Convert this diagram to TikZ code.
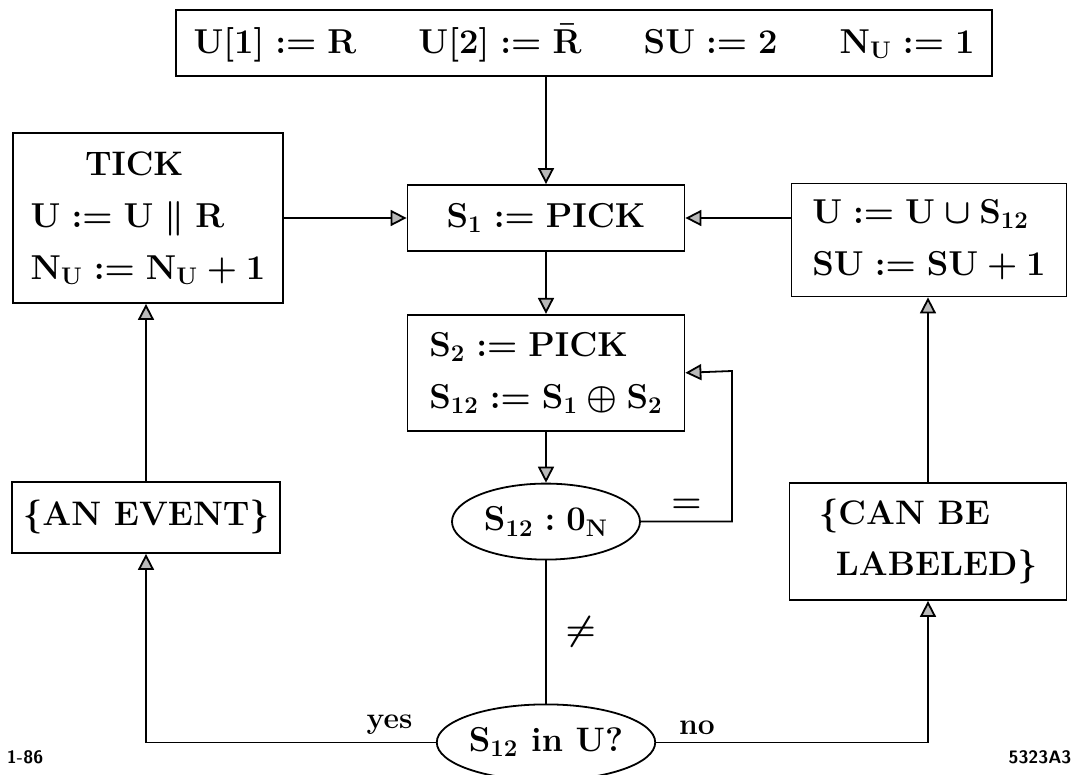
\documentclass[tikz,border=0pt]{standalone}
\usepackage{amsmath}
\usepackage{amssymb}
\usetikzlibrary{positioning, shapes.geometric, arrows.meta, calc}

\begin{document}
\begin{tikzpicture}[
	x=0.5pt, y=-0.5pt,
	% --- STYLES ---
	stepbox/.style={
		rectangle, draw, line width=0.9pt, inner sep=0pt,
		align=left, font=\fontsize{17}{26}\selectfont\bfseries\boldmath
	},
	condnode/.style={
		ellipse, draw, line width=0.9pt, inner sep=0pt,
		minimum width=94pt, minimum height=38pt, font=\fontsize{17}{20}\selectfont\bfseries\boldmath
	},
	line/.style={
		draw, line width=0.9pt, -{Triangle[length=8pt, width=8pt, fill=gray!55]}
	},
	joinline/.style={
		draw, line width=0.9pt
	},
	marklabel/.style={
		font=\fontsize{18}{20}\selectfont\boldmath
	},
	answer/.style={
		font=\bfseries\fontsize{15}{18}\selectfont
	},
	tagtext/.style={
		font=\sffamily\bfseries\fontsize{9}{10}\selectfont
	}
	]
	
	\useasboundingbox (0,0) rectangle (1078,775);
	
	% ==========================================
	% 1. Initialisation and first pick
	% ==========================================
	\node [stepbox, minimum width=408pt, minimum height=33pt, text width=390.5pt] (init) at (584,43)
	{$\mathrm{U[1] := R}$\hfill$\mathrm{U[2] := \bar{R}}$\hfill$\mathrm{SU := 2}$\hfill$\mathrm{N_U := 1}$};
	
	\node [stepbox, minimum width=138.5pt, minimum height=33pt] (pick1) at (546,218) {$\mathrm{S_1 := PICK}$};
	\draw [line] (init.south -| pick1.north) -- (pick1.north);
	
	% ==========================================
	% 2. Side boxes (TICK / update of U)
	% ==========================================
	\node [stepbox, minimum width=135pt, minimum height=85pt] (tick) at (148,218)
	{\hspace*{1.6em}TICK\\ $\mathrm{U := U \parallel R}$\\ $\mathrm{N_U := N_U + 1}$};
	\node [stepbox, minimum width=137.5pt, minimum height=56.5pt] (grow) at (929,240)
	{$\mathrm{U := U \cup S_{12}}$\\ $\mathrm{SU := SU + 1}$};
	
	\draw [line] (tick.east |- pick1.west) -- (pick1.west);
	\draw [line] (grow.west |- pick1.east) -- (pick1.east);
	
	% ==========================================
	% 3. Second pick and test against 0_N
	% ==========================================
	\node [stepbox, below=31pt of pick1, minimum width=138.5pt, minimum height=58pt] (pick2)
	{$\mathrm{S_2 := PICK}$\\ $\mathrm{S_{12} := S_1 \oplus S_2}$};
	\draw [line] (pick1) -- (pick2);
	
	\node [condnode, below=25.5pt of pick2] (zero) {$\mathrm{S_{12} : 0_N}$};
	\draw [line] (pick2) -- (zero);
	
	% --- loop back when equal ---
	\coordinate (loop) at (732,371);
	\draw [line] (zero.east) -- node[marklabel, above=1pt] {$=$} (zero.east -| loop) -- (loop) -- (pick2.east);
	
	% ==========================================
	% 4. Membership test and its two branches
	% ==========================================
	\node [condnode, minimum width=95pt, below=71.5pt of zero] (member) {$\mathrm{S_{12}}$ in U?};
	\draw [joinline] (zero) -- node[marklabel, right=6pt] {$\neq$} (member);
	
	\node [stepbox, minimum width=134pt, minimum height=35.5pt] (event) at (146,517.5) {\{AN EVENT\}};
	\node [stepbox, minimum width=138.5pt, minimum height=58.5pt] (labeled) at (928,541.5)
	{\{CAN BE\\ \hspace*{0.5em}LABELED\}};
	
	% --- yes branch ---
	\draw [line] (member.west) -- node[answer, above, pos=0.16] {yes} (member.west -| event.south) -- (event.south);
	\draw [line] (event.north) -- (event.north |- tick.south);
	
	% --- no branch ---
	\draw [line] (member.east) -- node[answer, above, pos=0.15] {no} (member.east -| labeled.south) -- (labeled.south);
	\draw [line] (labeled.north) -- (labeled.north |- grow.south);
	
	% ==========================================
	% 5. Figure tags
	% ==========================================
	\node [tagtext] (figno) at (25,757) {1-86};
	\node [tagtext] (figcode) at (1040,757) {5323A3};
\end{tikzpicture}
\end{document}
